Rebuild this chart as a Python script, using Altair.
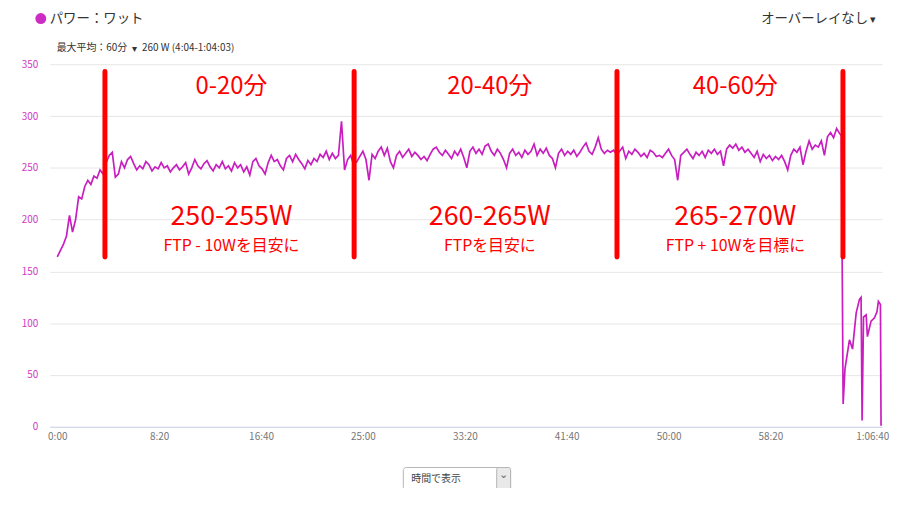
import altair as alt
import pandas as pd

# ---------------- data ----------------
power_step_s = 15
power_watts = [
    164, 170, 176, 184, 204, 188, 200, 222, 220, 232, 238, 234, 242, 240, 248, 244, 255, 262, 265,
    241, 244, 256, 250, 258, 261, 254, 248, 252, 249, 256, 253, 247, 251, 249, 255, 250, 252, 246,
    250, 253, 248, 251, 255, 244, 250, 258, 252, 249, 254, 257, 251, 247, 253, 250, 256, 249, 252,
    247, 255, 250, 253, 246, 251, 243, 256, 259, 252, 249, 244, 255, 262, 256, 258, 252, 248, 259,
    262, 256, 263, 258, 254, 249, 257, 253, 259, 256, 263, 260, 266, 258, 264, 259, 262, 295, 248,
    258, 262, 253, 256, 261, 266, 258, 238, 263, 259, 266, 270, 262, 269, 256, 250, 262, 266, 260,
    264, 268, 261, 265, 262, 258, 261, 257, 263, 268, 270, 265, 262, 267, 263, 259, 266, 262, 268,
    260, 250, 266, 270, 264, 268, 263, 271, 273, 266, 262, 268, 264, 258, 250, 264, 268, 262, 265,
    260, 267, 263, 266, 273, 262, 268, 264, 269, 262, 259, 250, 264, 268, 262, 266, 263, 267, 261,
    265, 270, 274, 266, 263, 270, 279, 268, 264, 267, 265, 267, 263, 266, 270, 259, 266, 263, 268,
    265, 261, 264, 260, 267, 265, 261, 262, 260, 264, 268, 262, 258, 238, 262, 265, 268, 263, 259,
    265, 262, 266, 260, 267, 264, 268, 263, 266, 252, 268, 272, 269, 273, 267, 270, 265, 268, 264,
    260, 266, 256, 263, 259, 262, 257, 261, 258, 262, 256, 248, 262, 268, 265, 270, 253, 266, 276,
    268, 272, 270, 276, 262, 280, 284, 279, 288, 283,
]
tail_seconds = [3848, 3857, 3866, 3888, 3903, 3921, 3937, 3945, 3950, 3957, 3970, 3976, 3994,
                4010, 4023, 4030, 4040, 4043]
tail_watts = [281, 22, 56, 84, 75, 110, 123, 125, 6, 106, 108, 87, 102, 105, 111, 121, 118, 1]

tick_seconds = [0, 500, 1000, 1500, 2000, 2500, 3000, 3500, 4000]
tick_labels = ["0:00", "8:20", "16:40", "25:00", "33:20", "41:40", "50:00", "58:20", "1:06:40"]
y_ticks = [0, 50, 100, 150, 200, 250, 300, 350]

marker_seconds = [234, 1457, 2747, 3856]
marker_low_w = 164
marker_high_w = 343

label_seconds = [855, 2123, 3328]
period_labels = ["0-20分", "20-40分", "40-60分"]
target_labels = ["250-255W", "260-265W", "265-270W"]
note_labels = ["FTP - 10Wを目安に", "FTPを目安に", "FTP + 10Wを目標に"]

title_text = "パワー：ワット"
avg_label = "最大平均：60分"
avg_value = "260 W (4:04-1:04:03)"
overlay_text = "オーバーレイなし"
select_text = "時間で表示"

# ---------------- build ----------------
seconds = [i * power_step_s for i in range(len(power_watts))] + tail_seconds
watts = power_watts + tail_watts
df = pd.DataFrame({"t": seconds, "w": watts})
markers = pd.DataFrame({"t": marker_seconds})
ann = pd.DataFrame({"t": label_seconds, "period": period_labels,
                    "target": target_labels, "note": note_labels})
one = pd.DataFrame({"k": [0]})

FONT = "Noto Sans CJK JP"
LINE = "#c81ec0"
RED = "#ff0000"

xscale = alt.Scale(domain=[-37, 4048], nice=False, zero=False)
yscale = alt.Scale(domain=[0, 350], nice=False)

label_expr = "[" + ",".join(f"'{s}'" for s in tick_labels) + "][round(datum.value/500)]"
x_axis = alt.Axis(values=tick_seconds, labelExpr=label_expr, grid=False, ticks=False,
                  domain=True, domainColor="#ccd6eb", domainWidth=1, labelColor="#777",
                  labelFont=FONT, labelFontSize=10, labelPadding=5, title=None)
y_axis = alt.Axis(values=y_ticks, grid=True, gridColor="#e6e6e6", ticks=False,
                  domain=False, labelColor="#d03cc4", labelFont=FONT,
                  labelFontSize=10, labelPadding=12, title=None)

line = alt.Chart(df).mark_line(color=LINE, strokeWidth=1.7).encode(
    x=alt.X("t:Q", scale=xscale, axis=x_axis),
    y=alt.Y("w:Q", scale=yscale, axis=y_axis),
)

rules = alt.Chart(markers).mark_rule(color=RED, strokeWidth=5, strokeCap="round").encode(
    x=alt.X("t:Q", scale=xscale, axis=x_axis),
    y=alt.datum(marker_low_w, scale=yscale, axis=y_axis),
    y2=alt.datum(marker_high_w),
)

def ann_layer(field, w, size):
    return alt.Chart(ann).mark_text(color=RED, font=FONT, fontSize=size, align="center",
                                    baseline="middle", fontWeight="normal").encode(
        x=alt.X("t:Q", scale=xscale, axis=x_axis),
        y=alt.datum(w, scale=yscale, axis=y_axis),
        text=f"{field}:N",
    )

periods = ann_layer("period", 328, 24)
targets = ann_layer("target", 202, 27)
notes = ann_layer("note", 174.5, 16)

def px_text(txt, x, y, size, color="#333", align="left", weight="normal"):
    return alt.Chart(one).mark_text(text=txt, font=FONT, fontSize=size, color=color,
                                    align=align, baseline="middle", fontWeight=weight).encode(
        x=alt.value(x), y=alt.value(y))

dot = alt.Chart(one).mark_point(filled=True, size=120, color="#cc2cc4", opacity=1).encode(
    x=alt.value(-9), y=alt.value(-46))
title = px_text(title_text, 0, -46, 13.5)
avg1 = px_text(avg_label, 7, -16, 10)
avg_tri = px_text("▾", 83, -15, 10)
avg2 = px_text(avg_value, 93, -16, 10)
overlay = px_text(overlay_text, 824, -46, 13.5, align="right")
overlay_tri = px_text("▾", 826, -45, 11)

box = alt.Chart(one).mark_rect(fill="white", stroke="#b5b5b5", strokeWidth=1, cornerRadius=3).encode(
    x=alt.value(356), x2=alt.value(464), y=alt.value(406), y2=alt.value(429))
btn = alt.Chart(one).mark_rect(fill="#e9e9e9", stroke="#b5b5b5", strokeWidth=1, cornerRadius=2).encode(
    x=alt.value(450), x2=alt.value(464), y=alt.value(406), y2=alt.value(429))
sel = px_text(select_text, 364, 418, 10, color="#444")
chev = px_text("⌄", 457, 414, 11, color="#666", align="center")

chart = alt.layer(
    line, rules, periods, targets, notes,
    dot, title, avg1, avg_tri, avg2, overlay, overlay_tri,
    box, btn, sel, chev,
).properties(
    width=838, height=365,
    autosize=alt.AutoSizeParams(type="none"),
    padding={"left": 42, "top": 55, "right": 10, "bottom": 60},
).configure(background="white").configure_view(strokeWidth=0, strokeOpacity=0)

chart.save("out.html", embed_options={"renderer": "svg", "actions": False})
